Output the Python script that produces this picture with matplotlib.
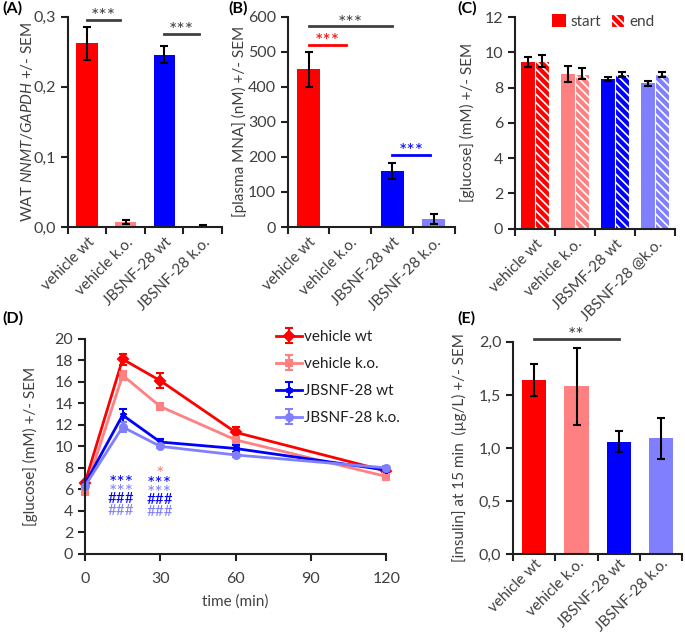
import matplotlib
matplotlib.use("Agg")
import matplotlib.pyplot as plt
from matplotlib.ticker import FuncFormatter
import numpy as np

plt.rcParams['font.family'] = ['Lato', 'DejaVu Sans']
plt.rcParams['mathtext.fontset'] = 'custom'
plt.rcParams['mathtext.rm'] = 'Lato'
plt.rcParams['mathtext.it'] = 'Lato:italic'
plt.rcParams['hatch.linewidth'] = 1.2

groups = ["vehicle wt", "vehicle k.o.", "JBSNF-28 wt", "JBSNF-28 k.o."]
groups_c = ["vehicle wt", "vehicle k.o.", "JBSMF-28 wt", "JBSNF-28 @k.o."]
colors = ["#FF0000", "#FF8080", "#0000FF", "#8080FF"]

# (A) WAT NNMT/GAPDH
nnmt = [0.262, 0.007, 0.246, 0.002]
nnmt_err = [0.024, 0.003, 0.012, 0.001]
# (B) plasma MNA
mna = [450, 0, 160, 22]
mna_err = [50, 0, 22, 14]
# (C) glucose start/end
gluc_start = [9.45, 8.75, 8.5, 8.25]
gluc_start_err = [0.3, 0.45, 0.12, 0.15]
gluc_end = [9.5, 8.8, 8.75, 8.75]
gluc_end_err = [0.35, 0.3, 0.12, 0.12]
# (D) glucose tolerance time course
time_min = [0, 15, 30, 60, 120]
ogtt = {
    "vehicle wt": [6.6, 18.1, 16.1, 11.3, 7.7],
    "vehicle k.o.": [5.8, 16.6, 13.7, 10.6, 7.2],
    "JBSNF-28 wt": [6.5, 12.9, 10.4, 9.8, 7.8],
    "JBSNF-28 k.o.": [6.3, 11.8, 10.0, 9.2, 8.0],
}
ogtt_err = {
    "vehicle wt": [0.2, 0.5, 0.7, 0.5, 0.3],
    "vehicle k.o.": [0.2, 0.4, 0.3, 0.3, 0.3],
    "JBSNF-28 wt": [0.2, 0.6, 0.3, 0.3, 0.2],
    "JBSNF-28 k.o.": [0.2, 0.5, 0.2, 0.2, 0.2],
}
markers = ["D", "s", (6, 2, 0), "o"]
# (E) insulin at 15 min
insulin = [1.64, 1.58, 1.06, 1.09]
insulin_err = [0.15, 0.36, 0.10, 0.19]

txt = "#404040"
fs = 11
fig = plt.figure(figsize=(6.85, 6.35), dpi=100)


def style(ax, ylim, yticks, fmt=None, cats=None, pad=6):
    for s in ["top", "right"]:
        ax.spines[s].set_visible(False)
    for s in ["left", "bottom"]:
        ax.spines[s].set_linewidth(1.5)
        ax.spines[s].set_color("#202020")
    ax.set_ylim(*ylim)
    ax.set_yticks(yticks)
    if fmt:
        ax.yaxis.set_major_formatter(FuncFormatter(fmt))
    ax.tick_params(axis="y", direction="out", length=5, width=1.5, colors="#202020",
                   labelcolor=txt, labelsize=11.5)
    if cats is not None:
        ax.set_xlim(-0.5, 3.5)
        ax.set_xticks(range(4))
        ax.set_xticklabels(cats, rotation=45, ha="right", rotation_mode="anchor",
                           fontsize=fs, color=txt)
        ax.tick_params(axis="x", which="major", length=0, pad=pad)
        ax.set_xticks(np.arange(-0.5, 4, 1), minor=True)
        ax.tick_params(axis="x", which="minor", length=5, width=1.5, colors="#202020")


def sig(ax, x0, x1, y, label, color, dy):
    ax.plot([x0, x1], [y, y], color=color, lw=2, clip_on=False)
    ax.text((x0 + x1) / 2, y + dy, label, color=color, ha="center", va="bottom",
            fontsize=14, clip_on=False)


comma1 = lambda v, p: f"{v:.1f}".replace(".", ",")
ekw = dict(ecolor="black", capsize=3, elinewidth=1.5, capthick=1.5)

# (A)
axA = fig.add_axes([0.099, 0.6425, 0.225, 0.331])
axA.bar(range(4), nnmt, 0.55, yerr=nnmt_err, color=colors, error_kw=ekw)
style(axA, (0, 0.3), [0, 0.1, 0.2, 0.3], comma1, groups)
axA.set_ylabel(r"WAT $\mathit{NNMT/GAPDH}$ +/- SEM", fontsize=fs, color=txt)
axA.yaxis.set_label_coords(-0.213, 0.5)
sig(axA, 0, 0.85, 0.296, "***", txt, -0.008)
sig(axA, 2, 2.9, 0.276, "***", txt, -0.008)

# (B)
axB = fig.add_axes([0.420, 0.6425, 0.244, 0.331])
axB.bar(range(4), mna, 0.55, color=colors)
axB.errorbar([0, 2, 3], [mna[i] for i in (0, 2, 3)], yerr=[mna_err[i] for i in (0, 2, 3)],
             fmt="none", **ekw)
style(axB, (0, 600), range(0, 601, 100), None, groups)
axB.set_ylabel("[plasma MNA] (nM) +/- SEM", fontsize=fs, color=txt)
axB.yaxis.set_label_coords(-0.244, 0.5)
sig(axB, 0, 2, 574, "***", txt, -16)
sig(axB, 0, 0.9, 520, "***", colors[0], -16)
sig(axB, 2, 2.9, 206, "***", colors[2], -16)

# (C)
axC = fig.add_axes([0.752, 0.640, 0.234, 0.333])
xc = np.arange(4)
w = 0.35
axC.bar(xc - w / 2, gluc_start, w, color=colors, yerr=gluc_start_err, error_kw=ekw,
        label="start")
axC.bar(xc + w / 2, gluc_end, w, color=colors, edgecolor="white", hatch="\\\\\\\\",
        linewidth=0.8, yerr=gluc_end_err, error_kw=ekw, label="end")
style(axC, (0, 12), range(0, 13, 2), None, groups_c)
axC.set_ylabel("[glucose] (mM) +/- SEM", fontsize=fs, color=txt)
axC.yaxis.set_label_coords(-0.25, 0.5)
axC.legend(loc="upper center", bbox_to_anchor=(0.55, 1.08), ncol=2, frameon=False,
           fontsize=fs, handlelength=0.9, handleheight=0.9, handletextpad=0.3,
           columnspacing=0.6, labelcolor=txt)

# (D)
axD = fig.add_axes([0.124, 0.1276, 0.440, 0.339])
for (name, vals), c, m in zip(ogtt.items(), colors, markers):
    axD.errorbar(time_min, vals, yerr=ogtt_err[name], color=c, marker=m, ms=5,
                 mew=1.5, lw=2, capsize=3, elinewidth=1.5, capthick=1.5,
                 label=name, clip_on=False)
style(axD, (0, 20), range(0, 21, 2))
axD.set_xlim(0, 120)
axD.set_xticks([0, 30, 60, 90, 120])
axD.tick_params(axis="x", direction="out", length=5, width=1.5, colors="#202020",
                labelcolor=txt, labelsize=11.5, pad=8)
axD.set_xlabel("time (min)", fontsize=fs, color=txt, labelpad=6)
axD.set_ylabel("[glucose] (mM) +/- SEM", fontsize=fs, color=txt)
axD.yaxis.set_label_coords(-0.155, 0.5)
annot = [
    (14.5, 7.1, "***", colors[2]), (14.5, 6.2, "***", colors[3]),
    (14.5, 5.2, "###", colors[2]), (14.5, 4.1, "###", colors[3]),
    (29.7, 7.9, "*", colors[1]), (29.7, 7.0, "***", colors[2]),
    (29.7, 6.1, "***", colors[3]), (29.7, 5.1, "###", colors[2]),
    (29.7, 4.0, "###", colors[3]),
]
for x, y, s, c in annot:
    if "*" in s:
        axD.annotate(s, (x, y), xytext=(0, -11), textcoords="offset pixels",
                     color=c, ha="center", va="baseline", fontsize=14)
    else:
        axD.annotate(s, (x, y), xytext=(0, -5), textcoords="offset pixels",
                     color=c, ha="center", va="baseline", fontsize=11)
axD.legend(loc="upper left", bbox_to_anchor=(0.383, 0.502), bbox_transform=fig.transFigure,
           frameon=False, fontsize=fs, labelcolor="#202020", handlelength=1.7,
           handletextpad=0.1, labelspacing=0.85)

# (E)
axE = fig.add_axes([0.749, 0.1276, 0.247, 0.334])
axE.bar(range(4), insulin, 0.57, yerr=insulin_err, color=colors, error_kw=ekw)
style(axE, (0, 2.0), [0, 0.5, 1.0, 1.5, 2.0], comma1, groups, pad=2)
axE.set_ylabel("[insulin] at 15 min  (µg/L) +/- SEM", fontsize=fs, color=txt)
axE.yaxis.set_label_coords(-0.272, 0.5)
sig(axE, 0, 2, 2.03, "**", txt, -0.05)

# panel letters
for lab, x, y in [("(A)", 0.003, 0.975), ("(B)", 0.333, 0.975), ("(C)", 0.667, 0.975),
                  ("(D)", 0.003, 0.487), ("(E)", 0.667, 0.487)]:
    fig.text(x, y, lab, fontsize=11.5, fontweight="bold", color="black", va="bottom")

fig.savefig("out.png", dpi=100)
